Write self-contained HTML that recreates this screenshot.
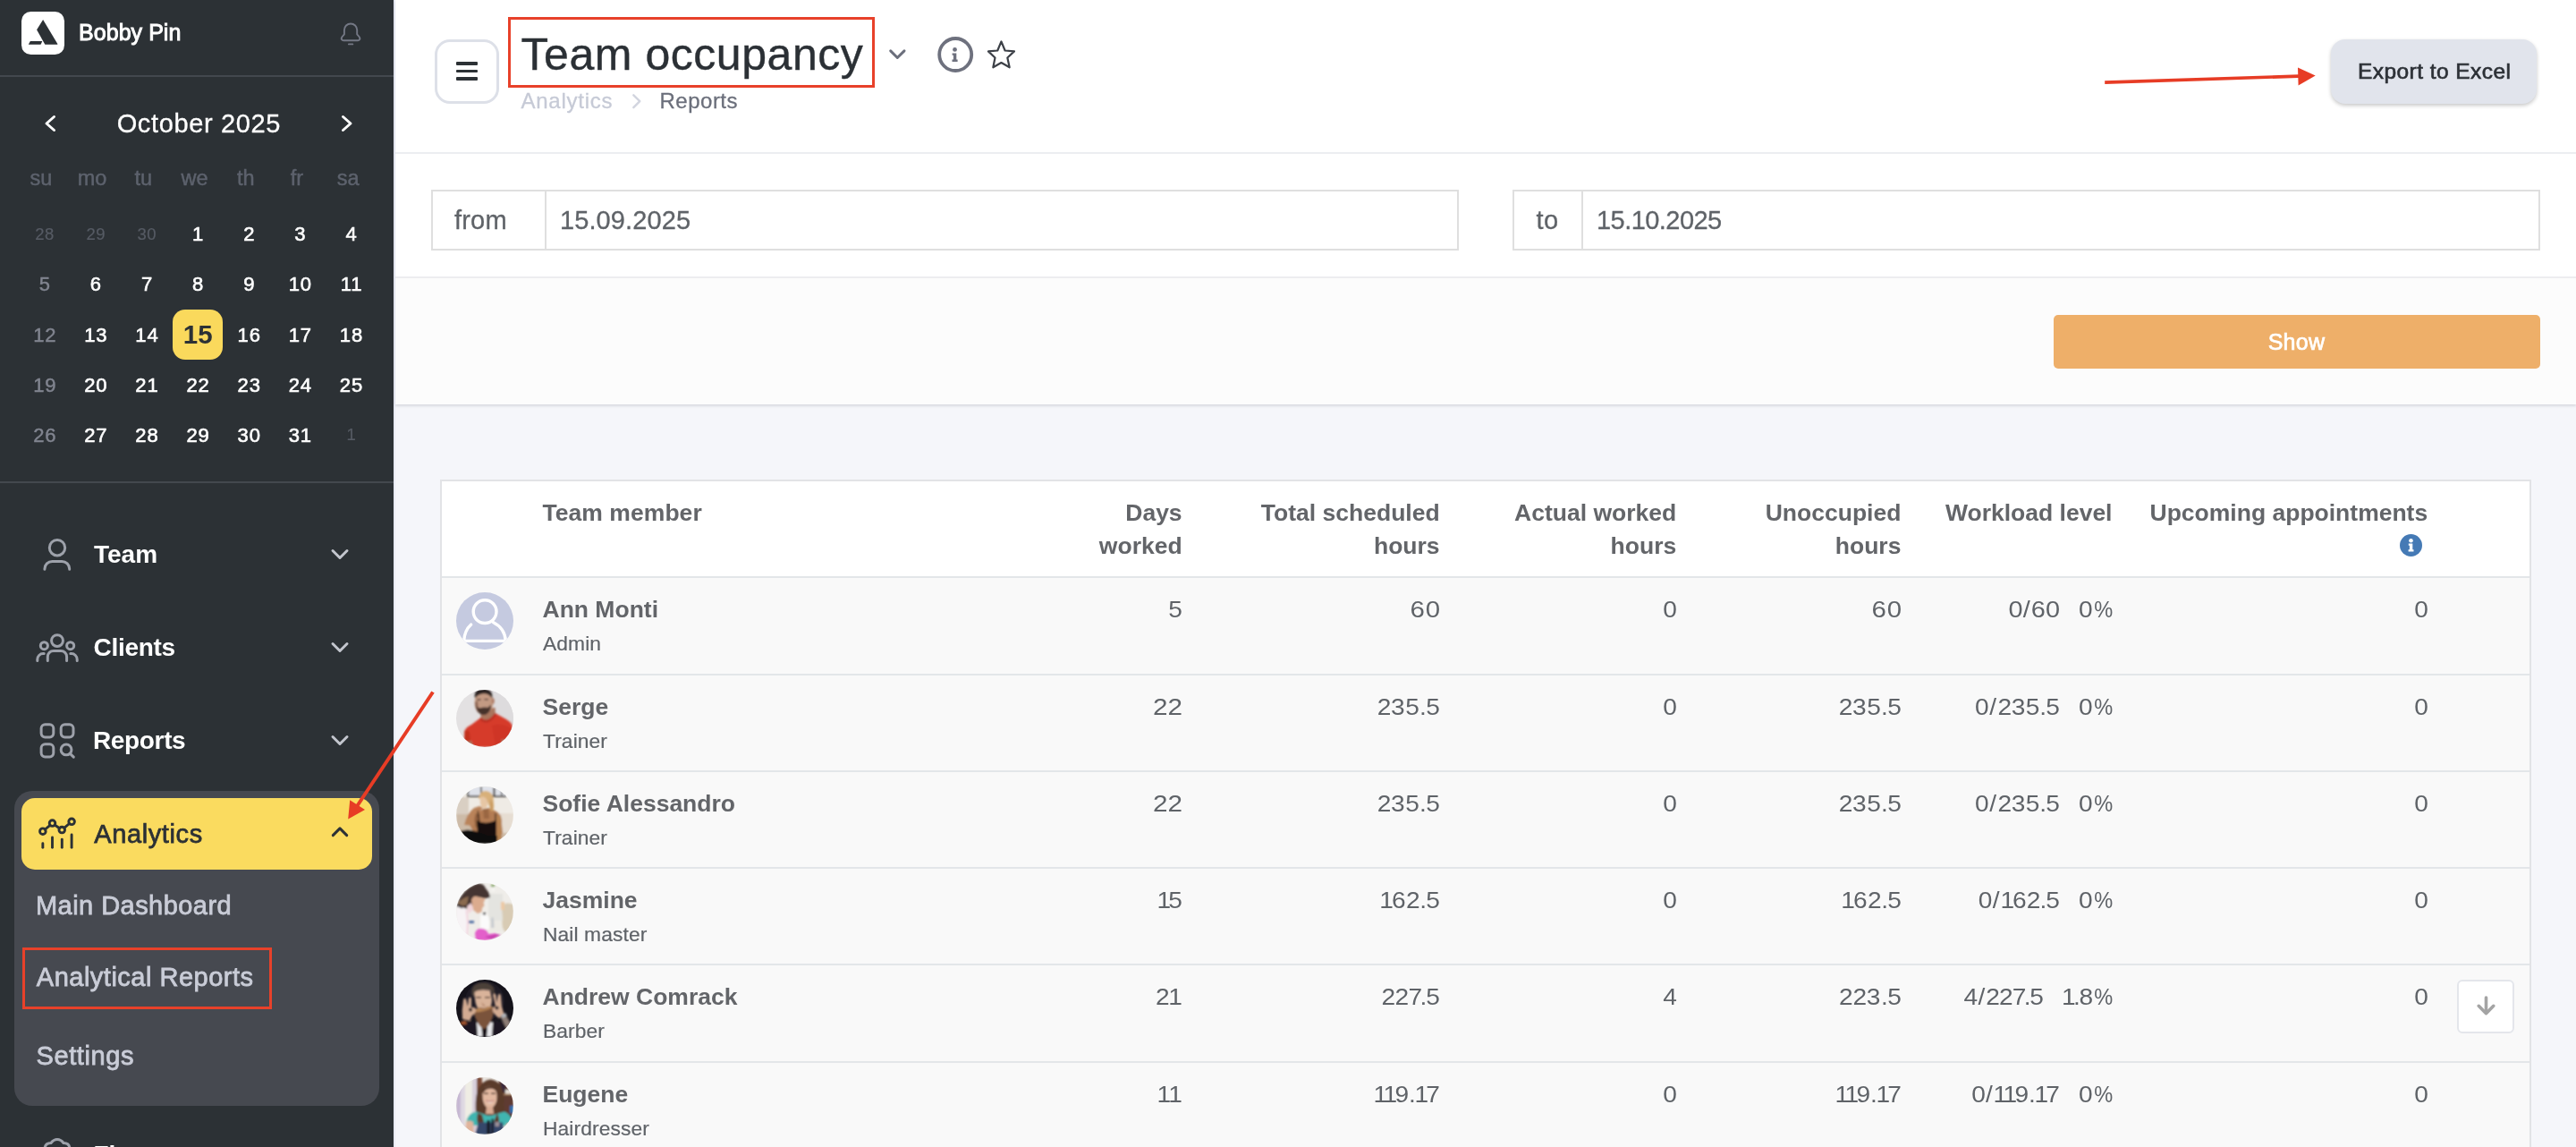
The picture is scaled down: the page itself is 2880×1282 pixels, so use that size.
<!DOCTYPE html>
<html><head><meta charset="utf-8"><title>Team occupancy</title>
<style>
html,body{margin:0;padding:0}
body{width:2880px;height:1282px;overflow:hidden;position:relative;background:#f5f6fa;font-family:"Liberation Sans",sans-serif}
.t{position:absolute;line-height:1;white-space:nowrap}
.a{position:absolute}
svg{position:absolute;overflow:visible}
#root{position:absolute;left:0;top:0;width:2880px;height:1282px;overflow:hidden;will-change:transform}
@media (max-width:2000px){#root{zoom:.5}}
</style></head><body><div id="root">
<svg width="0" height="0" style="left:0;top:0"><defs><filter id="bl" x="-10%" y="-10%" width="120%" height="120%"><feGaussianBlur stdDeviation="0.85"/></filter></defs></svg><div class="a" style="left:440px;top:0;width:2px;height:1282px;background:#e9ebf5"></div>
<div class="a" style="left:442px;top:0;width:2438px;height:452px;background:#fff;box-shadow:0 2px 2.5px rgba(70,76,95,.16)"></div>
<div class="a" style="left:442px;top:311px;width:2438px;height:141px;background:#fcfcfc"></div>
<div class="a" style="left:442px;top:170px;width:2438px;height:2px;background:#eceef1"></div>
<div class="a" style="left:442px;top:309px;width:2438px;height:2px;background:#ededf0"></div>
<div class="a" style="left:486px;top:44px;width:72px;height:72px;box-sizing:border-box;border:3px solid #dde0e8;border-radius:17px;background:#fff"></div>
<div class="a" style="left:510px;top:69px;width:24px;height:3.6px;background:#2c3135;border-radius:1px"></div>
<div class="a" style="left:510px;top:77.6px;width:24px;height:3.6px;background:#2c3135;border-radius:1px"></div>
<div class="a" style="left:510px;top:86.2px;width:24px;height:3.6px;background:#2c3135;border-radius:1px"></div>
<div class="t" style="top:36.17px;font-size:50px;font-weight:400;color:#2b3035;letter-spacing:0.55px;-webkit-text-stroke:0.4px #2b3035;left:582.5px;">Team occupancy</div>
<div class="a" style="left:568px;top:19px;width:410px;height:79px;box-sizing:border-box;border:3.5px solid #e8412a"></div>
<svg style="left:0;top:0" width="2880" height="170">
<path d="M995.7 56.9 L1003.3 64.5 L1011 56.9" fill="none" stroke="#6b6f7c" stroke-width="3" stroke-linecap="round" stroke-linejoin="round"/>
<circle cx="1068.2" cy="61" r="18" fill="none" stroke="#6e717e" stroke-width="3.8"/>
<circle cx="1067.5" cy="55.4" r="2.4" fill="#6e717e"/>
<path d="M1064.6 59.4 H1069.3 V66.6 H1070.6 V68.9 H1064.5 V66.6 H1065.9 V61.7 H1064.6 Z" fill="#6e717e"/>
<path d="M1119.45 46.40 L1123.61 56.50 L1133.94 57.40 L1126.32 64.45 L1128.66 75.30 L1119.45 70.06 L1110.33 75.30 L1112.48 64.45 L1104.91 57.40 L1115.25 56.50 Z" fill="none" stroke="#3c4047" stroke-width="2.2" stroke-linejoin="round"/>
<path d="M2353.2 92.1 L2570 85.1" stroke="#e73c25" stroke-width="3.7" fill="none"/>
<path d="M2588.7 84.5 L2569 75.6 L2569.6 95.5 Z" fill="#e73c25"/>
</svg>
<div class="t" style="top:101.08px;font-size:24px;font-weight:400;color:#c6cad6;letter-spacing:0.75px;-webkit-text-stroke:0.3px #c6cad6;left:582.5px;">Analytics</div>
<div class="t" style="top:101.08px;font-size:24px;font-weight:400;color:#6b6f7b;letter-spacing:0.5px;-webkit-text-stroke:0.3px #6b6f7b;left:737.5px;">Reports</div>
<svg style="left:0;top:0" width="900" height="170"><path d="M708.3 106.3 L715.3 113.2 L708.3 120.2" fill="none" stroke="#d2d5df" stroke-width="2.4" stroke-linecap="round" stroke-linejoin="round"/></svg>
<div class="a" style="left:2606px;top:44px;width:230px;height:72px;border-radius:16px;background:#e1e4ec;box-shadow:0 2px 4px rgba(0,0,0,.22)"></div>
<div class="t" style="top:67.76px;font-size:24.5px;font-weight:400;color:#2c3036;letter-spacing:0.45px;-webkit-text-stroke:0.65px #2c3036;left:1721.6999999999998px;width:2000px;text-align:center;">Export to Excel</div>
<div class="a" style="left:482px;top:212px;width:1149px;height:68px;box-sizing:border-box;border:2px solid #dfdfdf;background:#fff"></div><div class="a" style="left:608.5px;top:212px;width:2px;height:68px;background:#dfdfdf"></div><div class="t" style="top:232.15px;font-size:29px;font-weight:400;color:#5f6368;letter-spacing:0.2px;-webkit-text-stroke:0.3px #5f6368;left:508px;">from</div><div class="t" style="top:232.15px;font-size:29px;font-weight:400;color:#5f6368;letter-spacing:0.1px;-webkit-text-stroke:0.3px #5f6368;left:626px;">15.09.2025</div>
<div class="a" style="left:1691px;top:212px;width:1149px;height:68px;box-sizing:border-box;border:2px solid #dfdfdf;background:#fff"></div><div class="a" style="left:1767.5px;top:212px;width:2px;height:68px;background:#dfdfdf"></div><div class="t" style="top:232.15px;font-size:29px;font-weight:400;color:#5f6368;letter-spacing:0.4px;-webkit-text-stroke:0.3px #5f6368;left:1717.5px;">to</div><div class="t" style="top:232.15px;font-size:29px;font-weight:400;color:#5f6368;letter-spacing:-0.55px;-webkit-text-stroke:0.3px #5f6368;left:1785px;">15.10.2025</div>
<div class="a" style="left:2296px;top:352px;width:544px;height:60px;border-radius:5px;background:#eeaf69"></div>
<div class="t" style="top:369.74px;font-size:25px;font-weight:400;color:#fff;letter-spacing:0.3px;-webkit-text-stroke:0.7px #fff;left:1567.5px;width:2000px;text-align:center;">Show</div>
<div class="a" style="left:492px;top:536px;width:2338px;height:760px;box-sizing:border-box;border:2px solid #e2e3e6;background:#f9f9f9"></div>
<div class="a" style="left:494px;top:538px;width:2334px;height:106px;background:#fff"></div>
<div class="a" style="left:494px;top:644.0px;width:2334px;height:2px;background:#e3e6e9"></div>
<div class="a" style="left:494px;top:753.0px;width:2334px;height:2px;background:#e3e6e9"></div>
<div class="a" style="left:494px;top:861.0px;width:2334px;height:2px;background:#e3e6e9"></div>
<div class="a" style="left:494px;top:969.0px;width:2334px;height:2px;background:#e3e6e9"></div>
<div class="a" style="left:494px;top:1077.0px;width:2334px;height:2px;background:#e3e6e9"></div>
<div class="a" style="left:494px;top:1186.0px;width:2334px;height:2px;background:#e3e6e9"></div>
<div class="a" style="left:494px;top:1294.5px;width:2334px;height:2px;background:#e3e6e9"></div>
<div class="t" style="top:559.97px;font-size:26.5px;font-weight:700;color:#636569;letter-spacing:0.05px;left:606.5px;">Team member</div>
<div class="t" style="top:559.97px;font-size:26.5px;font-weight:700;color:#636569;left:-678.4000000000001px;width:2000px;text-align:right;">Days</div>
<div class="t" style="top:597.27px;font-size:26.5px;font-weight:700;color:#636569;left:-678.4000000000001px;width:2000px;text-align:right;">worked</div>
<div class="t" style="top:559.97px;font-size:26.5px;font-weight:700;color:#636569;left:-390.4000000000001px;width:2000px;text-align:right;">Total scheduled</div>
<div class="t" style="top:597.27px;font-size:26.5px;font-weight:700;color:#636569;left:-390.4000000000001px;width:2000px;text-align:right;">hours</div>
<div class="t" style="top:559.97px;font-size:26.5px;font-weight:700;color:#636569;left:-125.79999999999995px;width:2000px;text-align:right;">Actual worked</div>
<div class="t" style="top:597.27px;font-size:26.5px;font-weight:700;color:#636569;left:-125.79999999999995px;width:2000px;text-align:right;">hours</div>
<div class="t" style="top:559.97px;font-size:26.5px;font-weight:700;color:#636569;left:125.40000000000009px;width:2000px;text-align:right;">Unoccupied</div>
<div class="t" style="top:597.27px;font-size:26.5px;font-weight:700;color:#636569;left:125.40000000000009px;width:2000px;text-align:right;">hours</div>
<div class="t" style="top:559.97px;font-size:26.5px;font-weight:700;color:#636569;left:361.5px;width:2000px;text-align:right;">Workload level</div>
<div class="t" style="top:559.97px;font-size:26.5px;font-weight:700;color:#636569;left:714.1999999999998px;width:2000px;text-align:right;">Upcoming appointments</div>
<svg style="left:2683px;top:596.8px" width="25" height="25" viewBox="0 0 25 25"><circle cx="12.5" cy="12.5" r="12.5" fill="#457ab5"/><circle cx="12.5" cy="7.3" r="2.3" fill="#fff"/><path d="M9.8 10.6 H14.3 V17.2 H15.5 V19.4 H9.6 V17.2 H10.9 V12.8 H9.8 Z" fill="#fff"/></svg>
<div class="t" style="top:667.87px;font-size:26.5px;font-weight:700;color:#636569;left:606.5px;">Ann Monti</div>
<div class="t" style="top:707.90px;font-size:22.8px;font-weight:400;color:#5f6368;letter-spacing:0.1px;-webkit-text-stroke:0.2px #5f6368;left:607px;">Admin</div>
<div class="t" style="top:668.29px;font-size:26px;font-weight:400;color:#5f6368;left:-678.2px;width:2000px;text-align:right;transform:scaleX(1.08);transform-origin:100% 50%;"><span style="letter-spacing:0px">5</span></div>
<div class="t" style="top:668.29px;font-size:26px;font-weight:400;color:#5f6368;left:-390.20000000000005px;width:2000px;text-align:right;transform:scaleX(1.13);transform-origin:100% 50%;"><span style="letter-spacing:0.74px">6</span><span style="letter-spacing:0px">0</span></div>
<div class="t" style="top:668.29px;font-size:26px;font-weight:400;color:#5f6368;left:-125.20000000000005px;width:2000px;text-align:right;transform:scaleX(1.08);transform-origin:100% 50%;"><span style="letter-spacing:0px">0</span></div>
<div class="t" style="top:668.29px;font-size:26px;font-weight:400;color:#5f6368;left:126.0px;width:2000px;text-align:right;transform:scaleX(1.13);transform-origin:100% 50%;"><span style="letter-spacing:0.74px">6</span><span style="letter-spacing:0px">0</span></div>
<div class="t" style="top:668.29px;font-size:26px;font-weight:400;color:#5f6368;left:303.0px;width:2000px;text-align:right;transform:scaleX(1.11);transform-origin:100% 50%;"><span style="letter-spacing:0.26px">0</span><span style="letter-spacing:0.9px">/</span><span style="letter-spacing:0.07px">6</span><span style="letter-spacing:0px">0</span></div>
<div class="t" style="top:668.29px;font-size:26px;font-weight:400;color:#5f6368;left:361.5999999999999px;width:2000px;text-align:right;transform:scaleX(1.08);transform-origin:100% 50%;"><span style="letter-spacing:0.08px">0</span><span style="display:inline-block;transform:scaleX(.84);transform-origin:100% 50%;margin-left:-2.6px">%</span></div>
<div class="t" style="top:668.29px;font-size:26px;font-weight:400;color:#5f6368;left:714.8000000000002px;width:2000px;text-align:right;transform:scaleX(1.08);transform-origin:100% 50%;"><span style="letter-spacing:0px">0</span></div>
<svg style="left:510px;top:661.8px" width="64" height="64" viewBox="0 0 64 64"><defs><clipPath id="c0"><circle cx="32" cy="32" r="32"/></clipPath></defs><g clip-path="url(#c0)"><rect width="64" height="64" fill="#c5cae0"/><g fill="none" stroke="#fff" stroke-width="3.4" stroke-linecap="round" stroke-linejoin="round"><circle cx="32.1" cy="21.6" r="12.9"/><path d="M16.7 36.1 Q9.5 42.5 8.6 54.4 H55.4 Q54.5 40 41.3 33.4"/></g></g></svg>
<div class="t" style="top:776.87px;font-size:26.5px;font-weight:700;color:#636569;left:606.5px;">Serge</div>
<div class="t" style="top:816.90px;font-size:22.8px;font-weight:400;color:#5f6368;letter-spacing:0.1px;-webkit-text-stroke:0.2px #5f6368;left:607px;">Trainer</div>
<div class="t" style="top:777.29px;font-size:26px;font-weight:400;color:#5f6368;left:-678.2px;width:2000px;text-align:right;transform:scaleX(1.14);transform-origin:100% 50%;"><span style="letter-spacing:-0.1px">2</span><span style="letter-spacing:0px">2</span></div>
<div class="t" style="top:777.29px;font-size:26px;font-weight:400;color:#5f6368;left:-390.20000000000005px;width:2000px;text-align:right;transform:scaleX(1.08);transform-origin:100% 50%;"><span style="letter-spacing:-0.21px">2</span><span style="letter-spacing:0.54px">3</span><span style="letter-spacing:0.07px">5</span><span style="letter-spacing:-0.39px">.</span><span style="letter-spacing:0px">5</span></div>
<div class="t" style="top:777.29px;font-size:26px;font-weight:400;color:#5f6368;left:-125.20000000000005px;width:2000px;text-align:right;transform:scaleX(1.08);transform-origin:100% 50%;"><span style="letter-spacing:0px">0</span></div>
<div class="t" style="top:777.29px;font-size:26px;font-weight:400;color:#5f6368;left:126.0px;width:2000px;text-align:right;transform:scaleX(1.08);transform-origin:100% 50%;"><span style="letter-spacing:-0.21px">2</span><span style="letter-spacing:0.54px">3</span><span style="letter-spacing:0.07px">5</span><span style="letter-spacing:-0.39px">.</span><span style="letter-spacing:0px">5</span></div>
<div class="t" style="top:777.29px;font-size:26px;font-weight:400;color:#5f6368;left:303.0px;width:2000px;text-align:right;transform:scaleX(1.08);transform-origin:100% 50%;"><span style="letter-spacing:0.71px">0</span><span style="letter-spacing:1.35px">/</span><span style="letter-spacing:-0.41px">2</span><span style="letter-spacing:0.34px">3</span><span style="letter-spacing:-0.13px">5</span><span style="letter-spacing:-0.59px">.</span><span style="letter-spacing:0px">5</span></div>
<div class="t" style="top:777.29px;font-size:26px;font-weight:400;color:#5f6368;left:361.5999999999999px;width:2000px;text-align:right;transform:scaleX(1.08);transform-origin:100% 50%;"><span style="letter-spacing:0.08px">0</span><span style="display:inline-block;transform:scaleX(.84);transform-origin:100% 50%;margin-left:-2.6px">%</span></div>
<div class="t" style="top:777.29px;font-size:26px;font-weight:400;color:#5f6368;left:714.8000000000002px;width:2000px;text-align:right;transform:scaleX(1.08);transform-origin:100% 50%;"><span style="letter-spacing:0px">0</span></div>
<svg style="left:510px;top:770.8px" width="64" height="64" viewBox="0 0 64 64"><defs><clipPath id="c1"><circle cx="32" cy="32" r="32"/></clipPath></defs><g clip-path="url(#c1)"><rect width="64" height="64" fill="#e3e1e2"/><rect x="34" width="30" height="64" fill="#dddbdd"/><g filter="url(#bl)"><path d="M27.5 22 L27.5 34 L44 34 L43.6 20 Z" fill="#a9745d"/><ellipse cx="31" cy="14" rx="10.4" ry="13.2" fill="#c39a83"/><path d="M21 14 Q21 22 25 26 L24 12 Z" fill="#8e6654"/><ellipse cx="41.2" cy="12.5" rx="1.6" ry="3.2" fill="#b07e68"/><path d="M20.5 7 Q20.5 -1 30 -1.5 Q39.5 -1 40.3 6 L40.3 9.5 Q36 3.5 30 4.2 Q24 5 21.3 9.5 Z" fill="#2b2421"/><path d="M22.6 17.5 Q24.5 21 27 20.2 Q30.5 18.8 35.5 19.8 L39 16.5 Q39.5 24 34 27.2 Q29 29.6 25.2 25.4 Q22.6 22 22.6 17.5 Z" fill="#46332c"/><path d="M23.5 10.2 h4 v1.3 h-4z M31.5 10 h4.5 v1.3 h-4.5z" fill="#3a2a25"/><path d="M8.6 64 L9.4 46 Q11 41.5 17 39 L27.6 31 Q34.5 38.5 43.6 26 L56 33 Q62.5 36.5 63.2 42 L64.5 64 Z" fill="#d63b2c"/><path d="M9.4 46 Q13 44 15 48 L16 60 L9 62 Z" fill="#c2321f"/><path d="M27.6 31 Q34.5 38.5 43.6 26 L45 28 Q35 42 26 33 Z" fill="#b92f20"/><path d="M40 40 Q52 36 62 44 L64 64 L44 64 Z" fill="#cf3626"/><path d="M11 58 L17 57 L19 62 L12 64 Z M50 56 L54 55 L53 61 Z" fill="#a9745d"/></g></g></svg>
<div class="t" style="top:884.87px;font-size:26.5px;font-weight:700;color:#636569;left:606.5px;">Sofie Alessandro</div>
<div class="t" style="top:924.90px;font-size:22.8px;font-weight:400;color:#5f6368;letter-spacing:0.1px;-webkit-text-stroke:0.2px #5f6368;left:607px;">Trainer</div>
<div class="t" style="top:885.29px;font-size:26px;font-weight:400;color:#5f6368;left:-678.2px;width:2000px;text-align:right;transform:scaleX(1.14);transform-origin:100% 50%;"><span style="letter-spacing:-0.1px">2</span><span style="letter-spacing:0px">2</span></div>
<div class="t" style="top:885.29px;font-size:26px;font-weight:400;color:#5f6368;left:-390.20000000000005px;width:2000px;text-align:right;transform:scaleX(1.08);transform-origin:100% 50%;"><span style="letter-spacing:-0.21px">2</span><span style="letter-spacing:0.54px">3</span><span style="letter-spacing:0.07px">5</span><span style="letter-spacing:-0.39px">.</span><span style="letter-spacing:0px">5</span></div>
<div class="t" style="top:885.29px;font-size:26px;font-weight:400;color:#5f6368;left:-125.20000000000005px;width:2000px;text-align:right;transform:scaleX(1.08);transform-origin:100% 50%;"><span style="letter-spacing:0px">0</span></div>
<div class="t" style="top:885.29px;font-size:26px;font-weight:400;color:#5f6368;left:126.0px;width:2000px;text-align:right;transform:scaleX(1.08);transform-origin:100% 50%;"><span style="letter-spacing:-0.21px">2</span><span style="letter-spacing:0.54px">3</span><span style="letter-spacing:0.07px">5</span><span style="letter-spacing:-0.39px">.</span><span style="letter-spacing:0px">5</span></div>
<div class="t" style="top:885.29px;font-size:26px;font-weight:400;color:#5f6368;left:303.0px;width:2000px;text-align:right;transform:scaleX(1.08);transform-origin:100% 50%;"><span style="letter-spacing:0.71px">0</span><span style="letter-spacing:1.35px">/</span><span style="letter-spacing:-0.41px">2</span><span style="letter-spacing:0.34px">3</span><span style="letter-spacing:-0.13px">5</span><span style="letter-spacing:-0.59px">.</span><span style="letter-spacing:0px">5</span></div>
<div class="t" style="top:885.29px;font-size:26px;font-weight:400;color:#5f6368;left:361.5999999999999px;width:2000px;text-align:right;transform:scaleX(1.08);transform-origin:100% 50%;"><span style="letter-spacing:0.08px">0</span><span style="display:inline-block;transform:scaleX(.84);transform-origin:100% 50%;margin-left:-2.6px">%</span></div>
<div class="t" style="top:885.29px;font-size:26px;font-weight:400;color:#5f6368;left:714.8000000000002px;width:2000px;text-align:right;transform:scaleX(1.08);transform-origin:100% 50%;"><span style="letter-spacing:0px">0</span></div>
<svg style="left:510px;top:878.8px" width="64" height="64" viewBox="0 0 64 64"><defs><clipPath id="c2"><circle cx="32" cy="32" r="32"/></clipPath></defs><g clip-path="url(#c2)"><rect width="64" height="64" fill="#efebe5"/><g filter="url(#bl)"><rect x="0" y="12" width="14" height="20" fill="#d9cfc3"/><rect x="0" y="31" width="64" height="33" fill="#cdbba8"/><rect x="46" y="30" width="18" height="22" fill="#e6ddd2"/><rect x="12.5" y="0" width="44" height="11" fill="#dfe2ea"/><rect x="12" y="10" width="44" height="1.8" fill="#3c3836"/><rect x="12.5" y="4" width="1.6" height="8" fill="#4a4643"/><rect x="27" y="0" width="1.6" height="9" fill="#4a4643"/><rect x="41.5" y="1" width="2" height="10" fill="#3c3836"/><rect x="50" y="5" width="1.5" height="6" fill="#5a5653"/><path d="M15 43 Q16 30 26 27 L36 24 Q46 27 50 33 L52 52 L46 62 L20 52 Z" fill="#b37c52"/><path d="M9 43 Q12 30 20 24 L26 22 L30 24 L24 30 L20 44 Z" fill="#b9835a"/><path d="M22 30 Q19 38 22 46 L27 44 L26 30 Z" fill="#8f5e3c"/><path d="M30 25 L36 25 L37 36 L31 36 Z" fill="#9a6642"/><path d="M25 14 Q26 4 34 5 Q42 6 42 18 Q43 26 40 28 L36 20 Q34 12 28 13 Z" fill="#d8b07a"/><path d="M27 12 Q33 10 35 17 Q36 23 32 25 L28 23 Q26 18 27 12 Z" fill="#e6c6a4"/><path d="M38 14 Q42 18 41 28 L38 27 Z" fill="#c99a60"/><path d="M23 38 Q30 42 38 40 L45 38 L45 56 L24 54 Z" fill="#14110f"/><rect x="24.5" y="27" width="1" height="12" fill="#14110f" transform="rotate(-8 25 33)"/><rect x="43.5" y="30" width="1" height="9" fill="#14110f"/><path d="M45 33 Q50 32 51 38 L51 58 L45 62 L46 44 Z" fill="#b6814f"/><path d="M5 50 Q12 47 22 50 L36 55 L46 55 L46 64 L4 64 Z" fill="#100e0d"/></g></g></svg>
<div class="t" style="top:992.87px;font-size:26.5px;font-weight:700;color:#636569;left:606.5px;">Jasmine</div>
<div class="t" style="top:1032.90px;font-size:22.8px;font-weight:400;color:#5f6368;letter-spacing:0.1px;-webkit-text-stroke:0.2px #5f6368;left:607px;">Nail master</div>
<div class="t" style="top:993.29px;font-size:26px;font-weight:400;color:#5f6368;left:-678.2px;width:2000px;text-align:right;transform:scaleX(1.08);transform-origin:100% 50%;"><span style="letter-spacing:-2.45px">1</span><span style="letter-spacing:0px">5</span></div>
<div class="t" style="top:993.29px;font-size:26px;font-weight:400;color:#5f6368;left:-390.20000000000005px;width:2000px;text-align:right;transform:scaleX(1.08);transform-origin:100% 50%;"><span style="letter-spacing:-1.85px">1</span><span style="letter-spacing:0.49px">6</span><span style="letter-spacing:-0.44px">2</span><span style="letter-spacing:-0.62px">.</span><span style="letter-spacing:0px">5</span></div>
<div class="t" style="top:993.29px;font-size:26px;font-weight:400;color:#5f6368;left:-125.20000000000005px;width:2000px;text-align:right;transform:scaleX(1.08);transform-origin:100% 50%;"><span style="letter-spacing:0px">0</span></div>
<div class="t" style="top:993.29px;font-size:26px;font-weight:400;color:#5f6368;left:126.0px;width:2000px;text-align:right;transform:scaleX(1.08);transform-origin:100% 50%;"><span style="letter-spacing:-1.85px">1</span><span style="letter-spacing:0.49px">6</span><span style="letter-spacing:-0.44px">2</span><span style="letter-spacing:-0.62px">.</span><span style="letter-spacing:0px">5</span></div>
<div class="t" style="top:993.29px;font-size:26px;font-weight:400;color:#5f6368;left:303.0px;width:2000px;text-align:right;transform:scaleX(1.08);transform-origin:100% 50%;"><span style="letter-spacing:0.38px">0</span><span style="letter-spacing:1.02px">/</span><span style="letter-spacing:-2.15px">1</span><span style="letter-spacing:0.19px">6</span><span style="letter-spacing:-0.74px">2</span><span style="letter-spacing:-0.92px">.</span><span style="letter-spacing:0px">5</span></div>
<div class="t" style="top:993.29px;font-size:26px;font-weight:400;color:#5f6368;left:361.5999999999999px;width:2000px;text-align:right;transform:scaleX(1.08);transform-origin:100% 50%;"><span style="letter-spacing:0.08px">0</span><span style="display:inline-block;transform:scaleX(.84);transform-origin:100% 50%;margin-left:-2.6px">%</span></div>
<div class="t" style="top:993.29px;font-size:26px;font-weight:400;color:#5f6368;left:714.8000000000002px;width:2000px;text-align:right;transform:scaleX(1.08);transform-origin:100% 50%;"><span style="letter-spacing:0px">0</span></div>
<svg style="left:510px;top:986.8px" width="64" height="64" viewBox="0 0 64 64"><defs><clipPath id="c3"><circle cx="32" cy="32" r="32"/></clipPath></defs><g clip-path="url(#c3)"><rect width="64" height="64" fill="#efede9"/><g filter="url(#bl)"><rect x="36" y="12" width="16" height="30" fill="#e4e4e0"/><rect x="28" y="42" width="30" height="12" fill="#eceae4"/><ellipse cx="41" cy="3" rx="2.4" ry="1.8" fill="#86a565"/><rect x="39" y="4.5" width="4.5" height="5" fill="#f4f3f0"/><path d="M51 26 Q56 20 64 24 L64 54 L54 54 Q50 48 52 40 Z" fill="#d8cbb4"/><rect x="50" y="21" width="4" height="9" fill="#ecc9a4"/><path d="M1 24 Q6 8 22 1 Q30 -1 33 6 Q38 12 38 16 Q32 18 27 16 L22 22 L14 28 Q6 30 1 24 Z" fill="#453531"/><path d="M2 22 Q8 16 14 15 L12 24 Q6 27 2 22 Z" fill="#8a6a50"/><path d="M17 19 Q19 14 23 15 L27 16 Q31 18 33 17 L30.5 22 L31.5 25 L29 28 L28.5 32 L24 34 L19 30 Z" fill="#dbab8e"/><path d="M12 26 L17 22 L19 30 L14 34 Z" fill="#f2d6dc"/><path d="M0 26 Q8 26 12 30 L14 44 L13 62 L0 62 Z" fill="#f7f3f5"/><path d="M11.5 30 L13 44 L12 60" stroke="#f0b9cc" stroke-width="1" fill="none"/><path d="M0 25 Q4 26 7 28" stroke="#3a3438" stroke-width="1.4" fill="none"/><path d="M27 38 Q28 34 31 34 Q36 35 37 40 L37 52 L27 52 Z" fill="#fbfbfb"/><rect x="30" y="33" width="3" height="2.5" fill="#555"/><path d="M39 40 Q40.5 36 42 40 L42.5 50 L39 50 Z" fill="#c9ccd0"/><rect x="14" y="42" width="6" height="3" fill="#5b78a8"/><path d="M21 56 Q23 50 30 51 Q35 52 36 57 L44 56 Q47 58 44 60 L36 64 L22 64 Z" fill="#e35fca"/><path d="M32 60 L46 57 L50 58 L40 63 Z" fill="#c93fb0"/></g></g></svg>
<div class="t" style="top:1100.87px;font-size:26.5px;font-weight:700;color:#636569;left:606.5px;">Andrew Comrack</div>
<div class="t" style="top:1140.90px;font-size:22.8px;font-weight:400;color:#5f6368;letter-spacing:0.1px;-webkit-text-stroke:0.2px #5f6368;left:607px;">Barber</div>
<div class="t" style="top:1101.29px;font-size:26px;font-weight:400;color:#5f6368;left:-678.2px;width:2000px;text-align:right;transform:scaleX(1.08);transform-origin:100% 50%;"><span style="letter-spacing:-1.04px">2</span><span style="letter-spacing:0px">1</span></div>
<div class="t" style="top:1101.29px;font-size:26px;font-weight:400;color:#5f6368;left:-390.20000000000005px;width:2000px;text-align:right;transform:scaleX(1.08);transform-origin:100% 50%;"><span style="letter-spacing:-0.65px">2</span><span style="letter-spacing:-0.65px">2</span><span style="letter-spacing:-2.4px">7</span><span style="letter-spacing:-0.83px">.</span><span style="letter-spacing:0px">5</span></div>
<div class="t" style="top:1101.29px;font-size:26px;font-weight:400;color:#5f6368;left:-125.20000000000005px;width:2000px;text-align:right;transform:scaleX(1.08);transform-origin:100% 50%;"><span style="letter-spacing:0px">4</span></div>
<div class="t" style="top:1101.29px;font-size:26px;font-weight:400;color:#5f6368;left:126.0px;width:2000px;text-align:right;transform:scaleX(1.08);transform-origin:100% 50%;"><span style="letter-spacing:-0.21px">2</span><span style="letter-spacing:-0.21px">2</span><span style="letter-spacing:0.54px">3</span><span style="letter-spacing:-0.39px">.</span><span style="letter-spacing:0px">5</span></div>
<div class="t" style="top:1101.29px;font-size:26px;font-weight:400;color:#5f6368;left:285.4000000000001px;width:2000px;text-align:right;transform:scaleX(1.08);transform-origin:100% 50%;"><span style="letter-spacing:0.46px">4</span><span style="letter-spacing:0.93px">/</span><span style="letter-spacing:-0.83px">2</span><span style="letter-spacing:-0.83px">2</span><span style="letter-spacing:-2.58px">7</span><span style="letter-spacing:-1.01px">.</span><span style="letter-spacing:0px">5</span></div>
<div class="t" style="top:1101.29px;font-size:26px;font-weight:400;color:#5f6368;left:361.5999999999999px;width:2000px;text-align:right;transform:scaleX(1.08);transform-origin:100% 50%;"><span style="letter-spacing:-2.45px">1</span><span style="letter-spacing:-1.22px">.</span><span style="letter-spacing:-0.29px">8</span><span style="display:inline-block;transform:scaleX(.84);transform-origin:100% 50%;margin-left:-2.6px">%</span></div>
<div class="t" style="top:1101.29px;font-size:26px;font-weight:400;color:#5f6368;left:714.8000000000002px;width:2000px;text-align:right;transform:scaleX(1.08);transform-origin:100% 50%;"><span style="letter-spacing:0px">0</span></div>
<svg style="left:510px;top:1094.8px" width="64" height="64" viewBox="0 0 64 64"><defs><clipPath id="c4"><circle cx="32" cy="32" r="32"/></clipPath></defs><g clip-path="url(#c4)"><rect width="64" height="64" fill="#14121a"/><circle cx="32" cy="24" r="22" fill="#1d1a24"/><g filter="url(#bl)"><path d="M4 64 Q6 47 20 45 L32 52 L43 45 Q58 47 60 64 Z" fill="#1b1921"/><path d="M23 48 L32 44 L41 48 L40 64 L24 64 Z" fill="#e9e9ec"/><path d="M28.5 54 L32 50 L35 54 L34 64 L29.5 64 Z" fill="#121116"/><path d="M17.5 17 Q16 5 27 3.5 Q38 2 42 9 Q43.5 13 42 19 L39.5 12 Q33 9 24 12 L20 19 Z" fill="#4b4039"/><path d="M20.5 14 Q26 10 38 12 L40 22 Q40 30 36 33 L25 33 Q20.5 28 20.5 14 Z" fill="#d9b39a"/><path d="M22 19 h6 v1.4 h-6z M32 19 h6 v1.4 h-6z" fill="#5a4236"/><path d="M28 25 L30 30 L33 29 Z" fill="#b98e74"/><path d="M20 34 Q24 30 31 32 Q37 29 41.5 30.5 Q43 40 38 48 Q34 55 31 55 Q27 54 23 46 Q19.5 40 20 34 Z" fill="#7a523a"/><path d="M17 36 Q24 30 31 33 Q36 29 42 30 Q36 34 31 35 Q24 37 17 36 Z" fill="#b78454"/><path d="M8 23 Q9 19 11 22 L13 30 L14 21 Q15.5 18 17 21 L17 31 Q21 30 22 33 Q22 38 18 40 L15 46 L7 44 Q6 34 8 23 Z" fill="#d3ab92"/><circle cx="16" cy="33.5" r="2" fill="#14121a"/><path d="M41 17 Q43 14 44.5 17 L45 26 L47 17 Q49 14 50 18 L51 30 L54 40 L48 43 Q41 38 40.5 33 Q41 30 44 30 Z" fill="#d3ab92"/><circle cx="45.5" cy="31.5" r="2" fill="#14121a"/><path d="M49 41 L54.5 38 L62 50 L57 56 Z" fill="#8b7b74"/><path d="M50 39.5 L55 37 L57 40.5 L52 43 Z" fill="#aeb2b8"/><path d="M4.5 47 L11 45.5 L12 49.5 L5.5 51 Z" fill="#a3552e"/></g></g></svg>
<div class="t" style="top:1209.87px;font-size:26.5px;font-weight:700;color:#636569;left:606.5px;">Eugene</div>
<div class="t" style="top:1249.90px;font-size:22.8px;font-weight:400;color:#5f6368;letter-spacing:0.1px;-webkit-text-stroke:0.2px #5f6368;left:607px;">Hairdresser</div>
<div class="t" style="top:1210.29px;font-size:26px;font-weight:400;color:#5f6368;left:-678.2px;width:2000px;text-align:right;transform:scaleX(1.08);transform-origin:100% 50%;"><span style="letter-spacing:-2.45px">1</span><span style="letter-spacing:0px">1</span></div>
<div class="t" style="top:1210.29px;font-size:26px;font-weight:400;color:#5f6368;left:-390.20000000000005px;width:2000px;text-align:right;transform:scaleX(1.08);transform-origin:100% 50%;"><span style="letter-spacing:-2.45px">1</span><span style="letter-spacing:-2.45px">1</span><span style="letter-spacing:-0.11px">9</span><span style="letter-spacing:-1.22px">.</span><span style="letter-spacing:-2.45px">1</span><span style="letter-spacing:0px">7</span></div>
<div class="t" style="top:1210.29px;font-size:26px;font-weight:400;color:#5f6368;left:-125.20000000000005px;width:2000px;text-align:right;transform:scaleX(1.08);transform-origin:100% 50%;"><span style="letter-spacing:0px">0</span></div>
<div class="t" style="top:1210.29px;font-size:26px;font-weight:400;color:#5f6368;left:126.0px;width:2000px;text-align:right;transform:scaleX(1.08);transform-origin:100% 50%;"><span style="letter-spacing:-2.45px">1</span><span style="letter-spacing:-2.45px">1</span><span style="letter-spacing:-0.11px">9</span><span style="letter-spacing:-1.22px">.</span><span style="letter-spacing:-2.45px">1</span><span style="letter-spacing:0px">7</span></div>
<div class="t" style="top:1210.29px;font-size:26px;font-weight:400;color:#5f6368;left:303.0px;width:2000px;text-align:right;transform:scaleX(1.08);transform-origin:100% 50%;"><span style="letter-spacing:0.08px">0</span><span style="letter-spacing:0.72px">/</span><span style="letter-spacing:-2.45px">1</span><span style="letter-spacing:-2.45px">1</span><span style="letter-spacing:-0.11px">9</span><span style="letter-spacing:-1.22px">.</span><span style="letter-spacing:-2.45px">1</span><span style="letter-spacing:0px">7</span></div>
<div class="t" style="top:1210.29px;font-size:26px;font-weight:400;color:#5f6368;left:361.5999999999999px;width:2000px;text-align:right;transform:scaleX(1.08);transform-origin:100% 50%;"><span style="letter-spacing:0.08px">0</span><span style="display:inline-block;transform:scaleX(.84);transform-origin:100% 50%;margin-left:-2.6px">%</span></div>
<div class="t" style="top:1210.29px;font-size:26px;font-weight:400;color:#5f6368;left:714.8000000000002px;width:2000px;text-align:right;transform:scaleX(1.08);transform-origin:100% 50%;"><span style="letter-spacing:0px">0</span></div>
<svg style="left:510px;top:1203.8px" width="64" height="64" viewBox="0 0 64 64"><defs><clipPath id="c5"><circle cx="32" cy="32" r="32"/></clipPath></defs><g clip-path="url(#c5)"><rect width="64" height="64" fill="#e9e5e0"/><g filter="url(#bl)"><rect x="0" y="0" width="6" height="64" fill="#c6b7d3"/><rect x="5" y="0" width="6" height="64" fill="#ded8e2"/><rect x="10" y="0" width="9" height="64" fill="#efede4"/><rect x="18" y="0" width="6" height="64" fill="#d9d0dc"/><rect x="23" y="0" width="6" height="30" fill="#7c4b37"/><rect x="48" y="0" width="16" height="46" fill="#5e3b31"/><rect x="50" y="4" width="5" height="13" fill="#3a2a3a"/><rect x="55" y="14" width="9" height="5" fill="#e8e2dc"/><rect x="51" y="18.5" width="13" height="1.6" fill="#a9825e"/><rect x="60" y="32" width="4" height="8" fill="#2f6fb0"/><path d="M22 40 Q20 14 30 6 Q38 -1 47 6 Q55 14 53 32 Q57 44 53 53 L24 53 Q18 48 22 40 Z" fill="#5a3a2c"/><path d="M29.5 19 Q30 10 37 10.5 Q45 11 45.5 20 Q46 30 41 33.5 Q37 35.5 33.5 33 Q29.5 29 29.5 19 Z" fill="#e3b9a1"/><path d="M30 14 Q34 9 40 11 Q44 12 46 17 Q42 12 37 13 Q33 13 30 18 Z" fill="#4d3024"/><path d="M31 17.5 h5 v1.6 h-5z M39 17.5 h5 v1.6 h-5z" fill="#4a3028"/><path d="M33.5 26.5 Q37.5 29.5 42 26.5 Q38 31 33.5 26.5 Z" fill="#fff"/><path d="M33 26 Q37.5 28 42.5 26" stroke="#b8646a" stroke-width="0.8" fill="none"/><path d="M34 33 L41 33 L42 41 L33 41 Z" fill="#d9ab93"/><path d="M11.5 50 Q13 40 22 38.5 L30 41 Q37 45 45 41 L54 38.5 Q61 41 62.5 50 L56 54 L18 54 Z" fill="#3fb5b0"/><path d="M11 50 Q14 47 19 50 L20 64 L10 64 Z" fill="#e0b49c"/><path d="M56 52 Q60 50 62 54 L58 64 L54 64 Z" fill="#e0b49c"/><path d="M24 40 Q22 50 26 56 L31 50 L29 42 Z M46 40 Q50 50 46 57 L42 50 Z" fill="#5a3a2c"/><path d="M21 64 L25 50.5 L52 50.5 L54 64 Z" fill="#34476b"/><rect x="34.5" y="48" width="3.2" height="16" fill="#16151a"/><rect x="39.5" y="46.5" width="2.2" height="17.5" fill="#16151a"/><rect x="43.5" y="50" width="4.5" height="5" fill="#9a8f96"/></g></g></svg>
<div class="a" style="left:2747px;top:1095px;width:64px;height:60px;box-sizing:border-box;border:2px solid #e4e6eb;border-radius:6px;background:#fff"></div>
<svg style="left:0;top:0" width="2880" height="1282"><g fill="none" stroke="#a4a4a4" stroke-width="3.6" stroke-linecap="round" stroke-linejoin="round"><path d="M2779.5 1115 V1132.3"/><path d="M2771.2 1124.3 L2779.5 1132.7 L2787.8 1124.3"/></g></svg><div class="a" style="left:0;top:0;width:440px;height:1282px;background:#2c3135;overflow:hidden">
<div class="a" style="left:24px;top:13px;width:48px;height:48px;border-radius:10.5px;background:#fff"></div>
<svg style="left:24px;top:13px" width="48" height="48" viewBox="0 0 48 48"><path d="M24.1 8.9 L40.3 36 L40.3 36.8 L26.3 36.8 L17.1 20.3 Z" fill="#2c3135"/><path d="M9.85 33.05 H23.24 L21.57 36.8 H7.79 Z" fill="#2c3135"/></svg>
<div class="t" style="top:24.24px;font-size:25px;font-weight:400;color:#fff;letter-spacing:0.05px;-webkit-text-stroke:0.95px #fff;left:88px;">Bobby Pin</div>
<svg style="left:0;top:0" width="440" height="90"><g fill="none" stroke="#747885" stroke-width="1.9" stroke-linecap="round" stroke-linejoin="round"><path d="M384.9 38.3 V33.6 A7.15 7.15 0 0 1 399.2 33.6 V38.3 L401.5 41 Q403 43 402 44.2 Q401.4 45.2 400 45.2 H384.1 Q382.7 45.2 382.1 44.2 Q381.1 43 382.6 41 Z"/><path d="M389.9 49.4 H394.3"/></g></svg>
<div class="a" style="left:0;top:84px;width:440px;height:2px;background:#43484e"></div>
<div class="t" style="top:124.35px;font-size:29px;font-weight:400;color:#fff;letter-spacing:0.63px;-webkit-text-stroke:0.3px #fff;left:-777.7px;width:2000px;text-align:center;">October 2025</div>
<svg style="left:0;top:0" width="440" height="200"><g fill="none" stroke="#fff" stroke-width="3" stroke-linecap="round" stroke-linejoin="round"><path d="M60.5 130.5 L52 138 L60.5 145.5"/><path d="M383.5 130.5 L392 138 L383.5 145.5"/></g></svg>
<div class="t" style="top:187.51px;font-size:23.5px;font-weight:400;color:#5d626d;-webkit-text-stroke:0.45px #5d626d;left:-954.1px;width:2000px;text-align:center;">su</div>
<div class="t" style="top:187.51px;font-size:23.5px;font-weight:400;color:#5d626d;-webkit-text-stroke:0.45px #5d626d;left:-896.9px;width:2000px;text-align:center;">mo</div>
<div class="t" style="top:187.51px;font-size:23.5px;font-weight:400;color:#5d626d;-webkit-text-stroke:0.45px #5d626d;left:-839.7px;width:2000px;text-align:center;">tu</div>
<div class="t" style="top:187.51px;font-size:23.5px;font-weight:400;color:#5d626d;-webkit-text-stroke:0.45px #5d626d;left:-782.5px;width:2000px;text-align:center;">we</div>
<div class="t" style="top:187.51px;font-size:23.5px;font-weight:400;color:#5d626d;-webkit-text-stroke:0.45px #5d626d;left:-725.3px;width:2000px;text-align:center;">th</div>
<div class="t" style="top:187.51px;font-size:23.5px;font-weight:400;color:#5d626d;-webkit-text-stroke:0.45px #5d626d;left:-668.1px;width:2000px;text-align:center;">fr</div>
<div class="t" style="top:187.51px;font-size:23.5px;font-weight:400;color:#5d626d;-webkit-text-stroke:0.45px #5d626d;left:-610.9px;width:2000px;text-align:center;">sa</div>
<div class="a" style="left:193px;top:346px;width:56px;height:56px;border-radius:14px;background:#fad95c"></div>
<div class="t" style="top:252.86px;font-size:18.5px;font-weight:400;color:#565b64;letter-spacing:0.5px;-webkit-text-stroke:0.2px #565b64;left:-949.95px;width:2000px;text-align:center;">28</div>
<div class="t" style="top:252.86px;font-size:18.5px;font-weight:400;color:#565b64;letter-spacing:0.5px;-webkit-text-stroke:0.2px #565b64;left:-892.83px;width:2000px;text-align:center;">29</div>
<div class="t" style="top:252.86px;font-size:18.5px;font-weight:400;color:#565b64;letter-spacing:0.5px;-webkit-text-stroke:0.2px #565b64;left:-835.71px;width:2000px;text-align:center;">30</div>
<div class="t" style="top:251.15px;font-size:22px;font-weight:400;color:#fff;-webkit-text-stroke:0.6px #fff;left:-778.84px;width:2000px;text-align:center;">1</div>
<div class="t" style="top:251.15px;font-size:22px;font-weight:400;color:#fff;-webkit-text-stroke:0.6px #fff;left:-721.72px;width:2000px;text-align:center;">2</div>
<div class="t" style="top:251.15px;font-size:22px;font-weight:400;color:#fff;-webkit-text-stroke:0.6px #fff;left:-664.6px;width:2000px;text-align:center;">3</div>
<div class="t" style="top:251.15px;font-size:22px;font-weight:400;color:#fff;-webkit-text-stroke:0.6px #fff;left:-607.48px;width:2000px;text-align:center;">4</div>
<div class="t" style="top:307.45px;font-size:22px;font-weight:400;color:#80848f;-webkit-text-stroke:0.45px #80848f;left:-950.2px;width:2000px;text-align:center;">5</div>
<div class="t" style="top:307.45px;font-size:22px;font-weight:400;color:#fff;-webkit-text-stroke:0.6px #fff;left:-893.08px;width:2000px;text-align:center;">6</div>
<div class="t" style="top:307.45px;font-size:22px;font-weight:400;color:#fff;-webkit-text-stroke:0.6px #fff;left:-835.96px;width:2000px;text-align:center;">7</div>
<div class="t" style="top:307.45px;font-size:22px;font-weight:400;color:#fff;-webkit-text-stroke:0.6px #fff;left:-778.84px;width:2000px;text-align:center;">8</div>
<div class="t" style="top:307.45px;font-size:22px;font-weight:400;color:#fff;-webkit-text-stroke:0.6px #fff;left:-721.72px;width:2000px;text-align:center;">9</div>
<div class="t" style="top:307.45px;font-size:22px;font-weight:400;color:#fff;letter-spacing:0.9px;-webkit-text-stroke:0.6px #fff;left:-664.1500000000001px;width:2000px;text-align:center;">10</div>
<div class="t" style="top:307.45px;font-size:22px;font-weight:400;color:#fff;letter-spacing:0.9px;-webkit-text-stroke:0.6px #fff;left:-607.03px;width:2000px;text-align:center;">11</div>
<div class="t" style="top:363.85px;font-size:22px;font-weight:400;color:#80848f;letter-spacing:0.8px;-webkit-text-stroke:0.45px #80848f;left:-949.8px;width:2000px;text-align:center;">12</div>
<div class="t" style="top:363.85px;font-size:22px;font-weight:400;color:#fff;letter-spacing:0.9px;-webkit-text-stroke:0.6px #fff;left:-892.63px;width:2000px;text-align:center;">13</div>
<div class="t" style="top:363.85px;font-size:22px;font-weight:400;color:#fff;letter-spacing:0.9px;-webkit-text-stroke:0.6px #fff;left:-835.51px;width:2000px;text-align:center;">14</div>
<div class="t" style="top:358.79px;font-size:29.5px;font-weight:700;color:#2c3135;left:-778.84px;width:2000px;text-align:center;">15</div>
<div class="t" style="top:363.85px;font-size:22px;font-weight:400;color:#fff;letter-spacing:0.9px;-webkit-text-stroke:0.6px #fff;left:-721.27px;width:2000px;text-align:center;">16</div>
<div class="t" style="top:363.85px;font-size:22px;font-weight:400;color:#fff;letter-spacing:0.9px;-webkit-text-stroke:0.6px #fff;left:-664.1500000000001px;width:2000px;text-align:center;">17</div>
<div class="t" style="top:363.85px;font-size:22px;font-weight:400;color:#fff;letter-spacing:0.9px;-webkit-text-stroke:0.6px #fff;left:-607.03px;width:2000px;text-align:center;">18</div>
<div class="t" style="top:419.65px;font-size:22px;font-weight:400;color:#80848f;letter-spacing:0.8px;-webkit-text-stroke:0.45px #80848f;left:-949.8px;width:2000px;text-align:center;">19</div>
<div class="t" style="top:419.65px;font-size:22px;font-weight:400;color:#fff;letter-spacing:0.9px;-webkit-text-stroke:0.6px #fff;left:-892.63px;width:2000px;text-align:center;">20</div>
<div class="t" style="top:419.65px;font-size:22px;font-weight:400;color:#fff;letter-spacing:0.9px;-webkit-text-stroke:0.6px #fff;left:-835.51px;width:2000px;text-align:center;">21</div>
<div class="t" style="top:419.65px;font-size:22px;font-weight:400;color:#fff;letter-spacing:0.9px;-webkit-text-stroke:0.6px #fff;left:-778.3900000000001px;width:2000px;text-align:center;">22</div>
<div class="t" style="top:419.65px;font-size:22px;font-weight:400;color:#fff;letter-spacing:0.9px;-webkit-text-stroke:0.6px #fff;left:-721.27px;width:2000px;text-align:center;">23</div>
<div class="t" style="top:419.65px;font-size:22px;font-weight:400;color:#fff;letter-spacing:0.9px;-webkit-text-stroke:0.6px #fff;left:-664.1500000000001px;width:2000px;text-align:center;">24</div>
<div class="t" style="top:419.65px;font-size:22px;font-weight:400;color:#fff;letter-spacing:0.9px;-webkit-text-stroke:0.6px #fff;left:-607.03px;width:2000px;text-align:center;">25</div>
<div class="t" style="top:475.65px;font-size:22px;font-weight:400;color:#80848f;letter-spacing:0.8px;-webkit-text-stroke:0.45px #80848f;left:-949.8px;width:2000px;text-align:center;">26</div>
<div class="t" style="top:475.65px;font-size:22px;font-weight:400;color:#fff;letter-spacing:0.9px;-webkit-text-stroke:0.6px #fff;left:-892.63px;width:2000px;text-align:center;">27</div>
<div class="t" style="top:475.65px;font-size:22px;font-weight:400;color:#fff;letter-spacing:0.9px;-webkit-text-stroke:0.6px #fff;left:-835.51px;width:2000px;text-align:center;">28</div>
<div class="t" style="top:475.65px;font-size:22px;font-weight:400;color:#fff;letter-spacing:0.9px;-webkit-text-stroke:0.6px #fff;left:-778.3900000000001px;width:2000px;text-align:center;">29</div>
<div class="t" style="top:475.65px;font-size:22px;font-weight:400;color:#fff;letter-spacing:0.9px;-webkit-text-stroke:0.6px #fff;left:-721.27px;width:2000px;text-align:center;">30</div>
<div class="t" style="top:475.65px;font-size:22px;font-weight:400;color:#fff;letter-spacing:0.9px;-webkit-text-stroke:0.6px #fff;left:-664.1500000000001px;width:2000px;text-align:center;">31</div>
<div class="t" style="top:477.36px;font-size:18.5px;font-weight:400;color:#565b64;-webkit-text-stroke:0.2px #565b64;left:-607.48px;width:2000px;text-align:center;">1</div>
<div class="a" style="left:0;top:538px;width:440px;height:2px;background:#43484e"></div>
<svg style="left:0;top:0" width="440" height="1282"><g fill="none" stroke="#9da1aa" stroke-width="3" stroke-linecap="round" stroke-linejoin="round">
<circle cx="64" cy="612.2" r="8.7"/><path d="M49.9 636.3 V636 A8.6 8.6 0 0 1 58.5 627.4 H69.1 A8.6 8.6 0 0 1 77.7 636 V636.3"/>
<circle cx="64" cy="716.1" r="6.45"/><circle cx="49.36" cy="721.7" r="4.05"/><circle cx="78.66" cy="721.7" r="4.05"/>
<path d="M53.3 738.6 V734 A6.5 6.5 0 0 1 59.8 727.5 H68.1 A6.5 6.5 0 0 1 74.6 734 V738.6"/>
<path d="M41.8 738.6 V737 A6.4 6.4 0 0 1 48.2 730.6 H49.2"/><path d="M86.2 738.6 V737 A6.4 6.4 0 0 0 79.8 730.6 H78.8"/>
<rect x="46.1" y="809.8" width="13.7" height="14.1" rx="4.3"/><rect x="68.2" y="809.8" width="13.8" height="14.1" rx="4.3"/><rect x="46.1" y="831.8" width="13.7" height="14.1" rx="4.3"/>
<circle cx="74.05" cy="837.9" r="5.9"/><path d="M78.6 842.6 L82.3 846.1"/>
</g>
<g fill="none" stroke="#c3c6ce" stroke-width="3" stroke-linecap="round" stroke-linejoin="round">
<path d="M372 615.5 L380 623.5 L388 615.5"/><path d="M372 719.5 L380 727.5 L388 719.5"/><path d="M372 823.5 L380 831.5 L388 823.5"/>
</g></svg>
<div class="t" style="top:606.20px;font-size:28px;font-weight:700;color:#fff;left:105px;">Team</div>
<div class="t" style="top:710.30px;font-size:28px;font-weight:700;color:#fff;letter-spacing:-0.3px;left:104.5px;">Clients</div>
<div class="t" style="top:814.30px;font-size:28px;font-weight:700;color:#fff;letter-spacing:-0.35px;left:104px;">Reports</div>
<div class="a" style="left:16px;top:884px;width:408px;height:352px;border-radius:20px;background:#464950"></div>
<div class="a" style="left:24px;top:892px;width:392px;height:80px;border-radius:15px;background:#fadb5f"></div>
<svg style="left:0;top:0" width="440" height="1282"><g fill="none" stroke="#2c3135" stroke-width="2.9" stroke-linecap="round" stroke-linejoin="round">
<circle cx="47.84" cy="929.2" r="3.3"/><circle cx="58.5" cy="920.1" r="3.3"/><circle cx="69.24" cy="927.6" r="3.3"/><circle cx="80.1" cy="918.3" r="3.3"/>
<path d="M50.4 927 L56 922.3"/><path d="M61.2 922 L66.5 925.7"/><path d="M71.8 925.4 L77.5 920.5"/>
<path d="M47.84 942.8 V947.2"/><path d="M58.5 936 V947.2"/><path d="M69.3 938.1 V947.2"/><path d="M80.1 932.9 V947.2"/>
<path d="M372.3 933.6 L380 925.9 L387.7 933.6" stroke-width="3"/>
</g></svg>
<div class="t" style="top:918.25px;font-size:29px;font-weight:400;color:#2c3135;letter-spacing:0.6px;-webkit-text-stroke:0.75px #2c3135;left:105.3px;">Analytics</div>
<div class="t" style="top:997.85px;font-size:29px;font-weight:400;color:#c9ccd7;letter-spacing:0.45px;-webkit-text-stroke:0.8px #c9ccd7;left:40px;">Main Dashboard</div>
<div class="t" style="top:1078.05px;font-size:29px;font-weight:400;color:#c9ccd7;letter-spacing:0.5px;-webkit-text-stroke:0.8px #c9ccd7;left:40.8px;">Analytical Reports</div>
<div class="t" style="top:1166.05px;font-size:29px;font-weight:400;color:#c9ccd7;letter-spacing:0.6px;-webkit-text-stroke:0.8px #c9ccd7;left:40.5px;">Settings</div>
<div class="a" style="left:25px;top:1059px;width:279px;height:69px;box-sizing:border-box;border:3.5px solid #e8412a"></div>
<svg style="left:0;top:0" width="440" height="1282"><g fill="none" stroke="#9da1aa" stroke-width="3" stroke-linecap="round"><path d="M50 1288 V1284.5 Q50 1277.5 57 1277.5 Q60 1273.5 64 1273.5 Q68 1273.5 71 1277.5 Q78 1277.5 78 1284.5 V1288"/></g></svg>
<div class="t" style="top:1277.30px;font-size:28px;font-weight:700;color:#fff;left:104.5px;">Finance</div>
</div><svg style="left:0;top:0" width="2880" height="1282"><path d="M484 773.5 L398.5 902" stroke="#e73c25" stroke-width="4" fill="none"/><path d="M389.2 915.6 L391.2 894.2 L408 905 Z" fill="#e73c25"/></svg>
</div></body></html>
